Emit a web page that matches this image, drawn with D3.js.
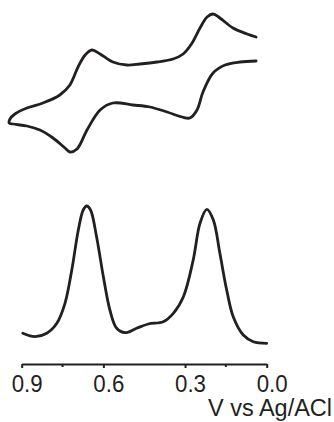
<!DOCTYPE html>
<html>
<head>
<meta charset="utf-8">
<script src="https://cdn.jsdelivr.net/npm/d3@7"></script>
<style>
  html, body { margin: 0; padding: 0; background: #fff; }
  svg { display: block; }
  text { font-family: "Liberation Sans", Arial, sans-serif; fill: #231f20; }
</style>
</head>
<body>
<script>
// ---- Data ----
// Cyclic voltammogram: potential (V vs Ag/AgCl) and current (arb. units), in scan order
const cvPotential = [0.039, 0.098, 0.153, 0.197, 0.234, 0.256, 0.282, 0.311, 0.366, 0.429, 0.491, 0.565, 0.612, 0.660, 0.697, 0.723, 0.741, 0.785, 0.833, 0.881, 0.932, 0.946,
                     0.943, 0.925, 0.881, 0.822, 0.760, 0.723, 0.693, 0.667, 0.642, 0.612, 0.565, 0.514, 0.466, 0.403, 0.344, 0.307, 0.274, 0.245, 0.219, 0.197, 0.172, 0.124, 0.072, 0.039];
const cvCurrent   = [16, 15.75, 15, 13, 8.25, 3.75, 1.75, 2, 3.25, 4.5, 5, 5.5, 3.75, -1.25, -6, -6.75, -5.75, -3.25, -1.25, -0.25, 0.25, 0.5,
                     1.5, 2.75, 4.25, 5.5, 7.5, 10, 14.5, 17.5, 18.75, 17.75, 15.75, 15, 15.25, 15.75, 16.5, 17.75, 20.5, 24.25, 27, 27.75, 26.75, 24.25, 22.75, 22];

// Differential pulse voltammogram
const dpvPotential = [0.896, 0.851, 0.808, 0.771, 0.741, 0.716, 0.692, 0.674, 0.661, 0.647, 0.625, 0.600, 0.576, 0.551, 0.520, 0.478, 0.435, 0.380, 0.343, 0.306, 0.270, 0.245, 0.220, 0.196, 0.172, 0.147, 0.123, 0.086, 0.049, 0.000];
const dpvCurrent   = [1.07, 0.73, 1.07, 2.07, 4.07, 7.4, 11.4, 13.4, 13.8, 13.4, 10.73, 6.73, 3.4, 1.57, 1.13, 1.57, 2.0, 2.23, 3.07, 4.73, 8.4, 12.07, 13.47, 12.4, 9.07, 5.4, 2.73, 0.9, 0.23, 0.07];

const majorTicks = [0.9, 0.6, 0.3, 0.0];
const minorTicks = [0.75, 0.15];
const xTitle = "V vs Ag/ACl";

// ---- Chart ----
const W = 334, H = 422;
const svg = d3.select("body").append("svg").attr("width", W).attr("height", H);

const x = d3.scaleLinear().domain([0.9, 0.0]).range([21.7, 266.7]);
const yCV = d3.scaleLinear().domain([-7, 28]).range([153, 13]);
const yDPV = d3.scaleLinear().domain([0, 14]).range([344, 204]);

const ink = "#231f20";

const cvLine = d3.line()
  .x((d, i) => x(cvPotential[i]))
  .y((d, i) => yCV(cvCurrent[i]))
  .curve(d3.curveCatmullRom.alpha(0.5));

svg.append("path")
  .attr("d", cvLine(cvPotential))
  .attr("fill", "none")
  .attr("stroke", ink)
  .attr("stroke-width", 2.8)
  .attr("stroke-linejoin", "round")
  .attr("stroke-linecap", "round");

const dpvLine = d3.line()
  .x((d, i) => x(dpvPotential[i]))
  .y((d, i) => yDPV(dpvCurrent[i]))
  .curve(d3.curveCatmullRom.alpha(0.5));

svg.append("path")
  .attr("d", dpvLine(dpvPotential))
  .attr("fill", "none")
  .attr("stroke", ink)
  .attr("stroke-width", 2.8)
  .attr("stroke-linejoin", "round")
  .attr("stroke-linecap", "round");

// Axis
const axisY = 364;
const axisG = svg.append("g").attr("transform", `translate(0,${axisY})`);
axisG.call(d3.axisBottom(x).tickValues(majorTicks).tickSize(4).tickSizeOuter(0).tickFormat(d3.format(".1f")));
axisG.select(".domain").attr("stroke", ink).attr("stroke-width", 2);
axisG.selectAll(".tick line").attr("stroke", ink).attr("stroke-width", 2);
axisG.selectAll(".tick text")
  .attr("y", 27.5)
  .attr("dy", 0)
  .attr("dx", 5)
  .attr("textLength", 31)
  .attr("lengthAdjust", "spacingAndGlyphs")
  .style("font-size", "23px")
  .style("font-family", "'Liberation Sans', Arial, sans-serif")
  .attr("fill", ink);

axisG.selectAll(".minor")
  .data(minorTicks)
  .enter().append("line")
  .attr("class", "minor")
  .attr("x1", d => x(d)).attr("x2", d => x(d))
  .attr("y1", 0).attr("y2", 3)
  .attr("stroke", ink).attr("stroke-width", 2);

svg.append("text")
  .attr("x", 332)
  .attr("y", 416)
  .attr("text-anchor", "end")
  .attr("textLength", 124)
  .attr("lengthAdjust", "spacingAndGlyphs")
  .style("font-size", "23px")
  .text(xTitle);
</script>
</body>
</html>
